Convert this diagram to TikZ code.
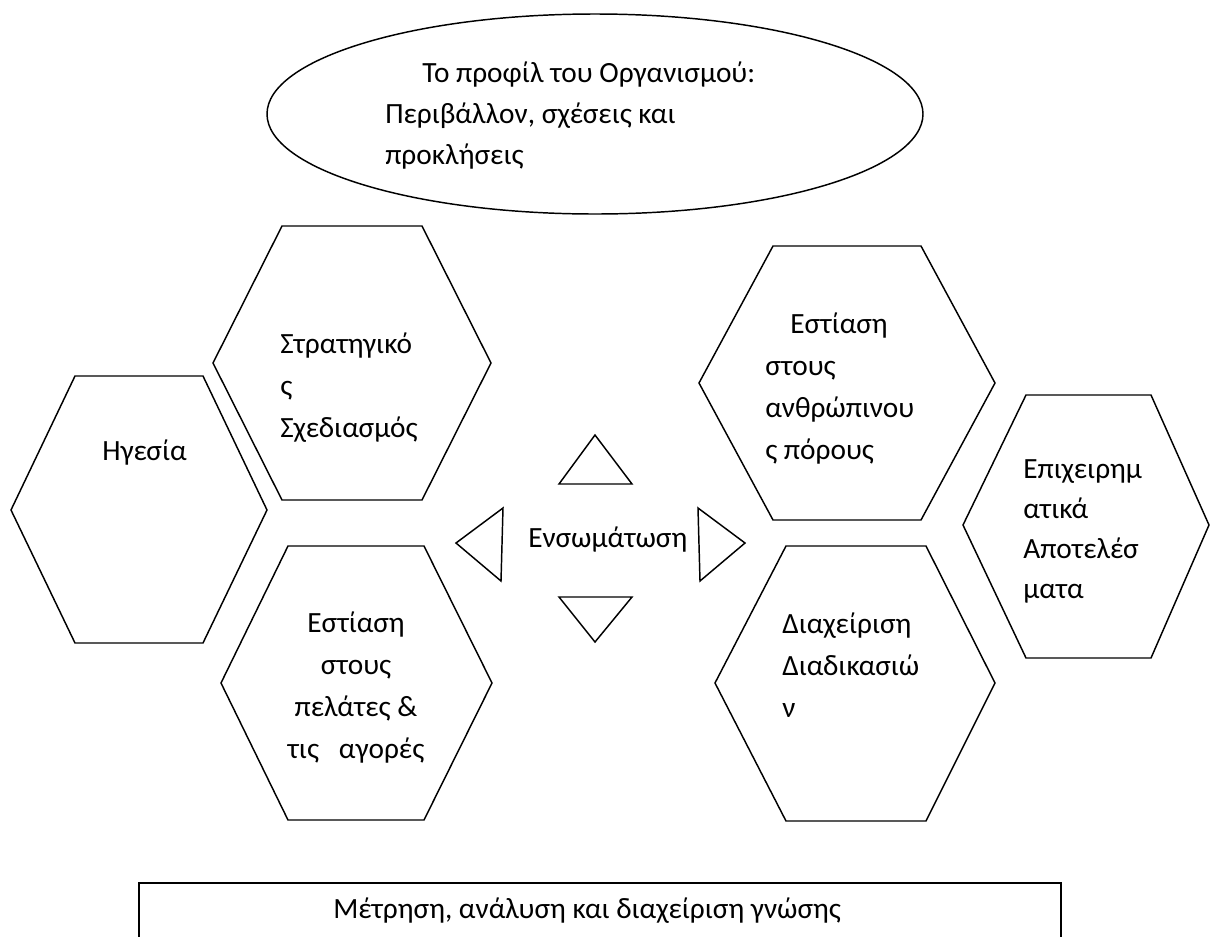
\documentclass[tikz,border=0pt]{standalone}
\usepackage{fontspec}
\setmainfont{Carlito}
\begin{document}
\begin{tikzpicture}[x=0.75pt,y=-0.75pt,
  shape line/.style={draw=black,line width=1.1pt,line join=miter},
  lbl/.style={inner sep=0pt,anchor=base west,font=\fontsize{22}{30}\selectfont},
  clbl/.style={inner sep=0pt,anchor=base,font=\fontsize{22}{30}\selectfont}]
\useasboundingbox (0,0) rectangle (1211,936);
\clip (0,0) rectangle (1211,936);
\fill[white] (0,0) rectangle (1211,936);

% ellipse
\draw[shape line] (595,114) ellipse [x radius=328, y radius=100];
\node[lbl] (e1) at (422,82) {Το προφίλ του Οργανισμού:};
\node[lbl] (e2) at (385,123) {Περιβάλλον, σχέσεις και};
\node[lbl] (e3) at (385,164) {προκλήσεις};

% hexagons
\draw[shape line] (75,376) -- (203,376) -- (267,510) -- (203,643) -- (75,643) -- (11,510) -- cycle;
\node[lbl] (h1) at (102,460) {Ηγεσία};

\draw[shape line] (282,226) -- (422,226) -- (491,363) -- (422,500) -- (282,500) -- (213,363) -- cycle;
\node[lbl] (h2a) at (280,353) {Στρατηγικό};
\node[lbl] (h2b) at (280,395) {ς};
\node[lbl] (h2c) at (280,437) {Σχεδιασμός};

\draw[shape line] (288,546) -- (424,546) -- (492,683) -- (424,820) -- (288,820) -- (221,683) -- cycle;
\node[clbl] (h3a) at (356,632) {Εστίαση};
\node[clbl] (h3b) at (356,674) {στους};
\node[clbl] (h3c) at (356,716) {πελάτες \&};
\node[clbl] (h3d) at (356,758) {τις\ \ \ αγορές};

\draw[shape line] (773,246) -- (921,246) -- (995,383) -- (921,520) -- (773,520) -- (699,383) -- cycle;
\node[lbl] (h4a) at (790,333) {Εστίαση};
\node[lbl] (h4b) at (765,375) {στους};
\node[lbl] (h4c) at (765,417) {ανθρώπινου};
\node[lbl] (h4d) at (765,459) {ς πόρους};

\draw[shape line] (786,546) -- (926,546) -- (995,683) -- (926,821) -- (786,821) -- (715,683) -- cycle;
\node[lbl] (h5a) at (782,633) {Διαχείριση};
\node[lbl] (h5b) at (782,675) {Διαδικασιώ};
\node[lbl] (h5c) at (782,717) {ν};

\draw[shape line] (1026,395) -- (1151,395) -- (1209,525) -- (1151,658) -- (1026,658) -- (963,525) -- cycle;
\node[lbl] (h6a) at (1023,478) {Επιχειρημ};
\node[lbl] (h6b) at (1023,518) {ατικά};
\node[lbl] (h6c) at (1023,558) {Αποτελέσ};
\node[lbl] (h6d) at (1023,598) {ματα};

% triangles
\draw[shape line] (595,435) -- (632,484) -- (559,484) -- cycle;
\draw[shape line] (456,543) -- (503,508) -- (501,581) -- cycle;
\draw[shape line] (698,508) -- (745,543) -- (700,581) -- cycle;
\draw[shape line] (559,597) -- (632,597) -- (595,642) -- cycle;
\node[lbl] (c) at (528,547) {Ενσωμάτωση};

% bottom box
\draw[draw=black,line width=1.5pt] (139,960) -- (139,883) -- (1061,883) -- (1061,960);
\node[lbl] (m) at (333,918) {Μέτρηση, ανάλυση και διαχείριση γνώσης};
\end{tikzpicture}
\end{document}
